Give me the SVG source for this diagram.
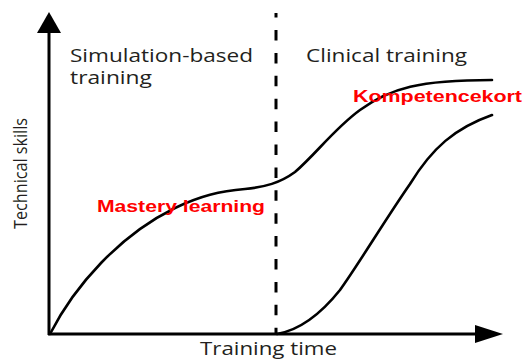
<svg xmlns="http://www.w3.org/2000/svg" width="523" height="360" viewBox="0 0 523 360">
  <style>
    .lbl { font-family: "Open Sans", "Noto Sans", "DejaVu Sans", sans-serif; fill: #231f20; }
    .red { font-family: "Liberation Sans", Arial, sans-serif; font-weight: bold; fill: #ff0000; font-size: 16px; }
    .axis { stroke: #000; stroke-width: 3; fill: none; }
    .curve { stroke: #000; stroke-width: 2.6; fill: none; stroke-linecap: round; }
  </style>
  <rect width="523" height="360" fill="#fff"/>
  <g id="connectors">
    <line class="axis" x1="49" y1="335" x2="49" y2="30"/>
    <path d="M37,33 L49,12 L61,33 Z" fill="#000"/>
    <line class="axis" x1="48" y1="334" x2="478" y2="334"/>
    <path d="M475,325 L503,334 L475,343 Z" fill="#000"/>
    <line x1="276" y1="13" x2="276" y2="334" stroke="#000" stroke-width="3" stroke-dasharray="10.5 12.4" stroke-dashoffset="5.9"/>
    <path id="curve-sim" class="curve" d="M50,334 C75,285 120,235 175,208 C200,196 220,191 245,189 C265,187 280,183 295,172 C315,155 335,128 360,110 C390,88 420,80 492,80"/>
    <path id="curve-clin" class="curve" d="M277,334 C300,330 320,315 340,290 C360,262 385,220 410,184 C432,148 455,128 492,115"/>
  </g>
  <g id="label-sim">
    <text class="lbl" x="70" y="62" font-size="18" textLength="183" lengthAdjust="spacingAndGlyphs">Simulation-based</text>
    <text class="lbl" x="70" y="84" font-size="18" textLength="82" lengthAdjust="spacingAndGlyphs">training</text>
  </g>
  <g id="label-clin">
    <text class="lbl" x="306" y="62" font-size="18" textLength="161" lengthAdjust="spacingAndGlyphs">Clinical training</text>
  </g>
  <g id="label-xaxis">
    <text class="lbl" x="200" y="355" font-size="18" textLength="137" lengthAdjust="spacingAndGlyphs">Training time</text>
  </g>
  <g id="label-yaxis">
    <text class="lbl" transform="translate(27,229) rotate(-90)" x="0" y="0" font-size="18" textLength="111" lengthAdjust="spacingAndGlyphs">Technical skills</text>
  </g>
  <g id="node-mastery">
    <text class="red" x="97" y="212" textLength="168" lengthAdjust="spacingAndGlyphs">Mastery learning</text>
  </g>
  <g id="node-kompetencekort">
    <text class="red" x="353" y="102" textLength="169" lengthAdjust="spacingAndGlyphs">Kompetencekort</text>
  </g>
</svg>
